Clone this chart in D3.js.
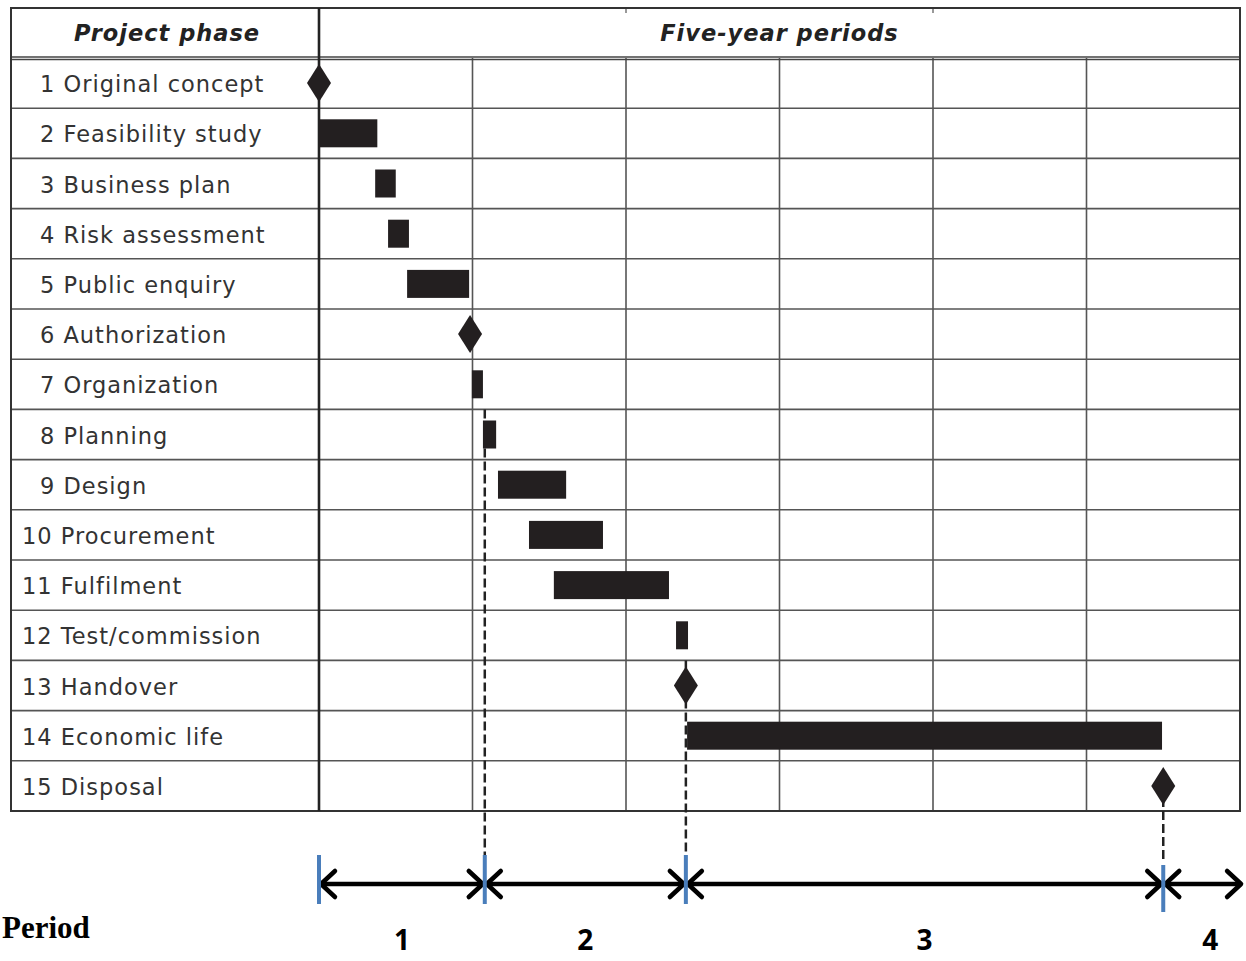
<html>
  <head>
    <meta charset="utf-8" />
    <script src="https://cdnjs.cloudflare.com/ajax/libs/d3/7.6.1/d3.min.js"></script>
    <style>
      body { margin: 0; background: #fff; }
      svg { display: block; }
      .label { font-family: "DejaVu Sans", Verdana, sans-serif; font-size: 22.5px; letter-spacing: 1px; fill: #333; }
      .head { font-family: "DejaVu Sans", Verdana, sans-serif; font-size: 22.5px; letter-spacing: 1px; font-weight: bold; font-style: italic; fill: #222; }
    </style>
  </head>
  <body>
    <svg width="1246" height="961"></svg>
  </body>
  <script>
    // phases, start / end in years (0..30)
    const phases = ["1 Original concept", "2 Feasibility study", "3 Business plan", "4 Risk assessment",
      "5 Public enquiry", "6 Authorization", "7 Organization", "8 Planning", "9 Design",
      "10 Procurement", "11 Fulfilment", "12 Test/commission", "13 Handover", "14 Economic life", "15 Disposal"];
    const starts = [0, 0, 1.83, 2.25, 2.87, 4.92, 4.98, 5.34, 5.83, 6.84, 7.65, 11.63, 11.95, 11.99, 27.5];
    const ends   = [0, 1.9, 2.5, 2.93, 4.89, 4.92, 5.34, 5.77, 8.05, 9.25, 11.4, 12.02, 11.95, 27.46, 27.5];
    const milestones = [true, false, false, false, false, true, false, false, false, false, false, false, true, false, true];
    const periodTicks = [5, 10, 15, 20, 25];
    // period boundaries (years) and labels
    const periodBounds = [0, 5.4, 11.95, 27.5, 30.1];
    const periodLabels = ["1", "2", "3", "4"];
    const dashedAt = [5.4, 11.95, 27.5];
    const dashedFromRow = [6, 11, 14];

    const svg = d3.select("svg");
    const left = 11, split = 319, right = 1240, tableTop = 8, headBottom = 58, bottom = 811;

    const x = d3.scaleLinear().domain([0, 30]).range([split, right]);
    const y = d3.scaleBand().domain(phases).range([headBottom, bottom]);

    // row lines
    svg.selectAll("line.row").data(phases.slice(1)).enter().append("line")
      .attr("x1", left).attr("x2", right)
      .attr("y1", d => y(d)).attr("y2", d => y(d))
      .attr("stroke", "#555").attr("stroke-width", 1.6);

    // vertical period lines
    svg.selectAll("line.col").data(periodTicks).enter().append("line")
      .attr("x1", d => x(d)).attr("x2", d => x(d))
      .attr("y1", headBottom).attr("y2", bottom)
      .attr("stroke", "#555").attr("stroke-width", 1.6);
    // little ticks in header
    svg.selectAll("line.htick").data([10, 20]).enter().append("line")
      .attr("x1", d => x(d)).attr("x2", d => x(d))
      .attr("y1", tableTop).attr("y2", tableTop + 5)
      .attr("stroke", "#555").attr("stroke-width", 1.2);

    // header double line
    svg.append("line").attr("x1", left).attr("x2", right).attr("y1", headBottom - 1).attr("y2", headBottom - 1)
      .attr("stroke", "#444").attr("stroke-width", 1.5);
    svg.append("line").attr("x1", left).attr("x2", right).attr("y1", headBottom + 1.5).attr("y2", headBottom + 1.5)
      .attr("stroke", "#444").attr("stroke-width", 1.5);

    // outer border
    svg.append("rect").attr("x", left).attr("y", tableTop).attr("width", right - left).attr("height", bottom - tableTop)
      .attr("fill", "none").attr("stroke", "#333").attr("stroke-width", 2);
    svg.append("line").attr("x1", split).attr("x2", split).attr("y1", tableTop).attr("y2", bottom)
      .attr("stroke", "#222").attr("stroke-width", 2.6);

    // headers
    svg.append("text").attr("class", "head").attr("x", (left + split) / 2 + 2).attr("y", 41)
      .attr("text-anchor", "middle").text("Project phase");
    svg.append("text").attr("class", "head").attr("x", x(15)).attr("y", 41)
      .attr("text-anchor", "middle").text("Five-year periods");

    // labels
    svg.selectAll("text.label").data(phases).enter().append("text")
      .attr("class", "label")
      .attr("x", (d, i) => i < 9 ? 40 : 22)
      .attr("y", d => y(d) + y.bandwidth() / 2 + 9)
      .text(d => d);

    // dashed lines
    svg.selectAll("line.dash").data(dashedAt).enter().append("line")
      .attr("x1", d => x(d)).attr("x2", d => x(d))
      .attr("y1", (d, i) => i == 2 ? y(phases[14]) + y.bandwidth() / 2 + 12 : y(phases[dashedFromRow[i]]) + y.bandwidth())
      .attr("y2", 860)
      .attr("stroke", "#222").attr("stroke-width", 2.5).attr("stroke-dasharray", "9,4");

    // bars
    const bh = 28;
    svg.selectAll("rect.bar").data(phases.filter((d, i) => !milestones[i])).enter().append("rect")
      .attr("x", d => x(starts[phases.indexOf(d)]))
      .attr("width", d => x(ends[phases.indexOf(d)]) - x(starts[phases.indexOf(d)]))
      .attr("y", d => y(d) + (y.bandwidth() - bh) / 2)
      .attr("height", bh)
      .attr("fill", "#231f20");

    // milestones
    svg.selectAll("path.ms").data(phases.filter((d, i) => milestones[i])).enter().append("path")
      .attr("d", d => {
        const cx = x(starts[phases.indexOf(d)]), cy = y(d) + y.bandwidth() / 2;
        return `M${cx},${cy - 19}L${cx + 12},${cy}L${cx},${cy + 19}L${cx - 12},${cy}Z`;
      })
      .attr("fill", "#231f20");

    // period arrows
    const ay = 884;
    const segs = periodLabels.map((p, i) => ({ p, a: periodBounds[i], b: periodBounds[i + 1] }));
    segs.forEach((s, i) => {
      const x1 = x(s.a), x2 = x(s.b);
      svg.append("line").attr("x1", x1 + 2).attr("x2", x2 - 2).attr("y1", ay).attr("y2", ay)
        .attr("stroke", "#000").attr("stroke-width", 4.5);
      svg.append("path").attr("d", `M${x1 + 16},${ay - 13}L${x1 + 2},${ay}L${x1 + 16},${ay + 13}`)
        .attr("fill", "none").attr("stroke", "#000").attr("stroke-width", 4.5)
        .attr("stroke-linecap", "round").attr("stroke-linejoin", "round");
      svg.append("path").attr("d", `M${x2 - 16},${ay - 13}L${x2 - 2},${ay}L${x2 - 16},${ay + 13}`)
        .attr("fill", "none").attr("stroke", "#000").attr("stroke-width", 4.5)
        .attr("stroke-linecap", "round").attr("stroke-linejoin", "round");
      svg.append("text").attr("x", (x1 + x2) / 2 + (i == 3 ? 7 : 0)).attr("y", 950).attr("text-anchor", "middle")
        .style("font-family", "'Open Sans', sans-serif").style("font-weight", "bold").style("font-size", "28px")
        .text(s.p);
    });

    // blue ticks
    svg.selectAll("line.blue").data(periodBounds.slice(0, 4)).enter().append("line")
      .attr("x1", d => x(d)).attr("x2", d => x(d))
      .attr("y1", (d, i) => i == 3 ? 865 : 855).attr("y2", (d, i) => i == 3 ? 912 : 904)
      .attr("stroke", "#4a7ebb").attr("stroke-width", 4);

    svg.append("text").attr("x", 2).attr("y", 938)
      .style("font-family", "'Liberation Serif', serif").style("font-weight", "bold").style("font-size", "31px")
      .text("Period");
  </script>
</html>
